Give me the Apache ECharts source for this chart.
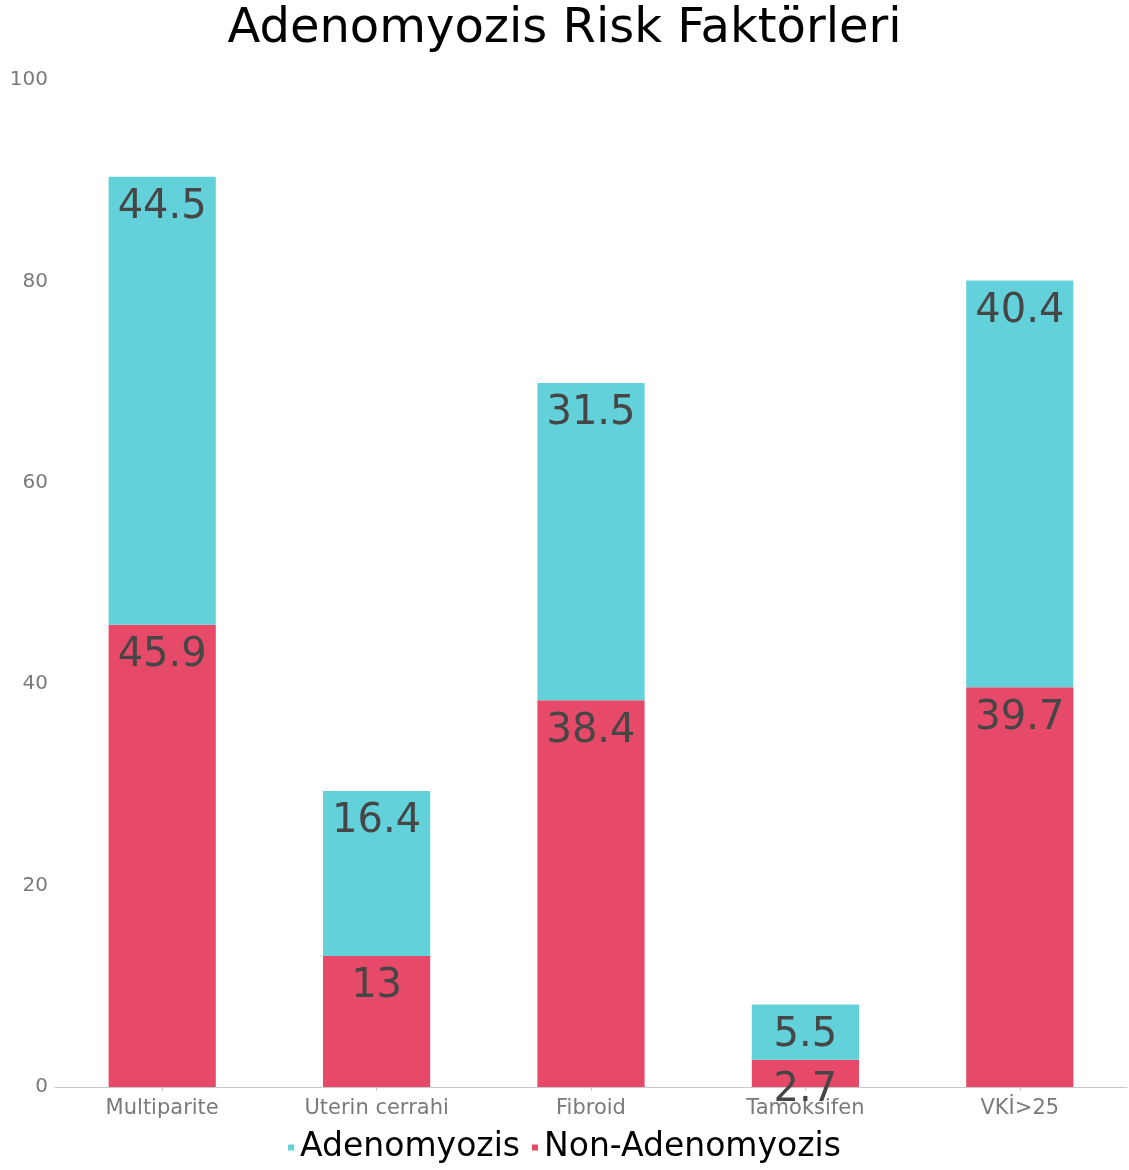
<!DOCTYPE html>
<html>
<head>
<meta charset="utf-8">
<script src="https://cdn.jsdelivr.net/npm/echarts@6/dist/echarts.min.js"></script>
<style>
  html, body { margin: 0; padding: 0; background: #fff; }
  #chart { width: 1129px; height: 1170px; }
</style>
</head>
<body>
<div id="chart"></div>
<script>
// Risk factor categories and the two stacked groups (percent)
const categories = ['Multiparite', 'Uterin cerrahi', 'Fibroid', 'Tamoksifen', 'VKİ>25'];
const nonAdenomyozis = [45.9, 13, 38.4, 2.7, 39.7];
const adenomyozis = [44.5, 16.4, 31.5, 5.5, 40.4];
const yTicks = [0, 20, 40, 60, 80, 100];

const FONT = '"DejaVu Sans", sans-serif';

const chart = echarts.init(document.getElementById('chart'));

const labelStyle = {
  show: true,
  position: 'insideTop',
  distance: 11,
  fontFamily: FONT,
  fontSize: 40,
  color: '#464646'
};

chart.setOption({
  animation: false,
  title: {
    text: 'Adenomyozis Risk Faktörleri',
    left: 'center',
    top: 1,
    textStyle: { fontFamily: FONT, fontSize: 48, fontWeight: 'normal', color: '#000' }
  },
  legend: {
    bottom: 1,
    left: 'center',
    itemWidth: 6,
    itemHeight: 6,
    itemGap: 12,
    icon: 'rect',
    textStyle: { fontFamily: FONT, fontSize: 33, color: '#000', padding: [0, 0, 0, 1] },
    data: ['Adenomyozis', 'Non-Adenomyozis']
  },
  grid: { left: 55, right: 2, top: 80, bottom: 83 },
  xAxis: {
    type: 'category',
    data: categories,
    axisLine: { lineStyle: { color: '#c8c8c8' } },
    axisTick: { show: true, alignWithLabel: true, length: 4, lineStyle: { color: '#c8c8c8' } },
    axisLabel: { fontFamily: FONT, fontSize: 21, color: '#7a7a7a', margin: 11 }
  },
  yAxis: {
    type: 'value',
    min: yTicks[0],
    max: yTicks[yTicks.length - 1],
    interval: 20,
    splitLine: { show: false },
    axisLine: { show: false },
    axisTick: { show: false },
    axisLabel: { fontFamily: FONT, fontSize: 20, color: '#7a7a7a', margin: 7, align: 'right' }
  },
  series: [
    {
      name: 'Non-Adenomyozis',
      type: 'bar',
      stack: 'total',
      barWidth: '50%',
      data: nonAdenomyozis,
      itemStyle: { color: '#e64a68' },
      label: labelStyle
    },
    {
      name: 'Adenomyozis',
      type: 'bar',
      stack: 'total',
      barWidth: '50%',
      data: adenomyozis,
      itemStyle: { color: '#63d1da' },
      label: labelStyle
    }
  ]
});
</script>
</body>
</html>
